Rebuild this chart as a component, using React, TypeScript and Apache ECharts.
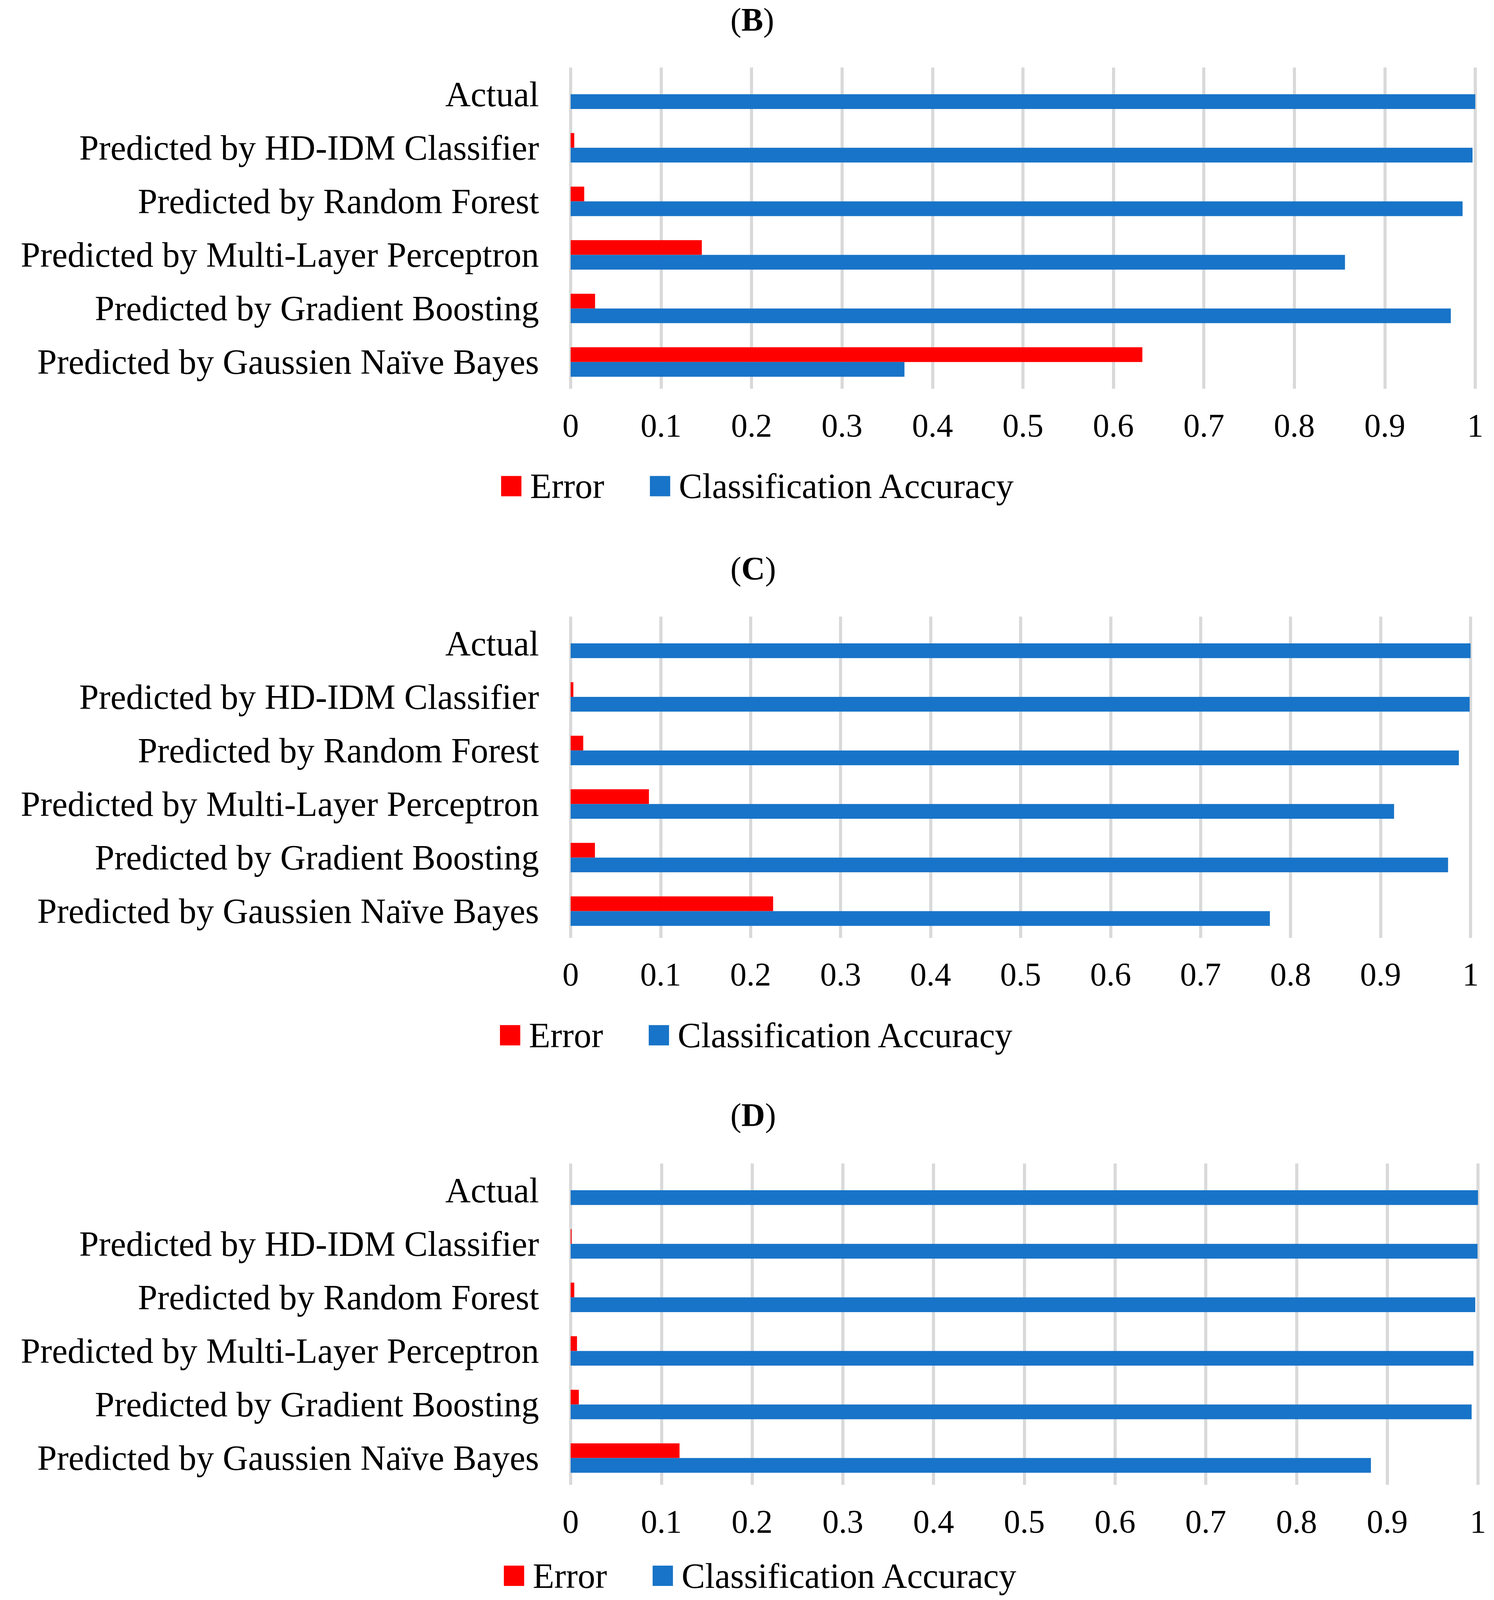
import React, { useEffect, useRef, useState } from "react";
import * as echarts from "echarts";

const categories = [
  "Actual",
  "Predicted by HD-IDM Classifier",
  "Predicted by Random Forest",
  "Predicted by Multi-Layer Perceptron",
  "Predicted by Gradient Boosting",
  "Predicted by Gaussien Naïve Bayes",
];

const panelLetters = ["B", "C", "D"];

const errorB = [0, 0.004, 0.015, 0.145, 0.027, 0.632];
const accuracyB = [1, 0.997, 0.986, 0.856, 0.973, 0.369];

const errorC = [0, 0.003, 0.014, 0.087, 0.027, 0.225];
const accuracyC = [1, 0.999, 0.987, 0.915, 0.975, 0.777];

const errorD = [0, 0.001, 0.004, 0.007, 0.009, 0.12];
const accuracyD = [1, 0.9995, 0.997, 0.995, 0.993, 0.882];

const seriesNames = ["Error", "Classification Accuracy"];

const errors = [errorB, errorC, errorD];
const accuracies = [accuracyB, accuracyC, accuracyD];

const FONT = "'Liberation Serif', 'Times New Roman', serif";
const RED = "#ff0000";
const BLUE = "#1874c8";

// reference layout (pixels in a 3825 x 5029 frame)
const W = 3825;
const REF_H = 5029;
const gridTops = [212, 1938, 3657];
const gridRights = [48, 60, 41];
const gridLeft = 1461;
const gridHeight = 1010;
const titleCenters = [62, 1787, 3505];
const legendCenters = [1528, 3254, 4973];
const legendLefts = [1283, 1280, 1290];
const tickLabelOffset = 119;

export default function App() {
  const ref = useRef<HTMLDivElement>(null);
  const [H] = useState(() => {
    const ih = typeof window !== "undefined" ? window.innerHeight : REF_H;
    return Math.max(1000, Math.min(REF_H, ih || REF_H));
  });

  useEffect(() => {
    document.body.style.margin = "0";
    document.body.style.overflow = "hidden";
    if (!ref.current) return;
    const ky = H / REF_H;
    const chart = echarts.init(ref.current, undefined, { renderer: "svg", width: W, height: H });

    const option: any = {
      animation: false,
      backgroundColor: "#ffffff",
      title: panelLetters.map((l, i) => ({
        text: "(" + "{b|" + l + "})",
        left: 1870,
        top: titleCenters[i] * ky - 42,
        padding: 0,
        textStyle: {
          fontFamily: FONT,
          fontSize: 84,
          lineHeight: 84,
          fontWeight: "normal",
          color: "#000",
          rich: {
            b: { fontFamily: FONT, fontSize: 84, lineHeight: 84, fontWeight: "bold", color: "#000" },
          },
        },
      })),
      legend: panelLetters.map((_, i) => ({
        data: seriesNames,
        left: legendLefts[i],
        top: Math.min(legendCenters[i] * ky, H - 62) - 45,
        padding: 0,
        icon: "rect",
        itemWidth: 52,
        itemHeight: 52,
        itemGap: 117,
        selectedMode: false,
        textStyle: { fontFamily: FONT, fontSize: 90, color: "#000", padding: [0, 0, 0, 17] },
      })),
      grid: panelLetters.map((_, i) => ({
        left: gridLeft,
        right: gridRights[i],
        top: gridTops[i] * ky,
        height: gridHeight * ky,
      })),
      xAxis: panelLetters.map((_, i) => ({
        type: "value",
        gridIndex: i,
        min: 0,
        max: 1,
        interval: 0.1,
        axisLine: { show: false },
        axisTick: { show: false },
        splitLine: { show: true, lineStyle: { color: "#d9d9d9", width: 8 } },
        axisLabel: {
          fontFamily: FONT,
          fontSize: 84,
          color: "#000",
          margin: tickLabelOffset * ky - 45,
          formatter: (v: number) => String(Math.round(v * 10) / 10),
        },
      })),
      yAxis: panelLetters.map((_, i) => ({
        type: "category",
        gridIndex: i,
        data: categories,
        inverse: true,
        axisLine: { show: false },
        axisTick: { show: false },
        splitLine: { show: false },
        axisLabel: { fontFamily: FONT, fontSize: 90, color: "#000", margin: 81 },
      })),
      series: panelLetters.flatMap((_, i) => [
        {
          type: "bar",
          name: seriesNames[0],
          xAxisIndex: i,
          yAxisIndex: i,
          data: errors[i],
          itemStyle: { color: RED },
          barGap: "0%",
          barCategoryGap: "45%",
        },
        {
          type: "bar",
          name: seriesNames[1],
          xAxisIndex: i,
          yAxisIndex: i,
          data: accuracies[i],
          itemStyle: { color: BLUE },
          barGap: "0%",
          barCategoryGap: "45%",
        },
      ]),
    };

    chart.setOption(option);
    return () => chart.dispose();
  }, [H]);

  return <div ref={ref} style={{ width: W, height: H, background: "#fff" }} />;
}
